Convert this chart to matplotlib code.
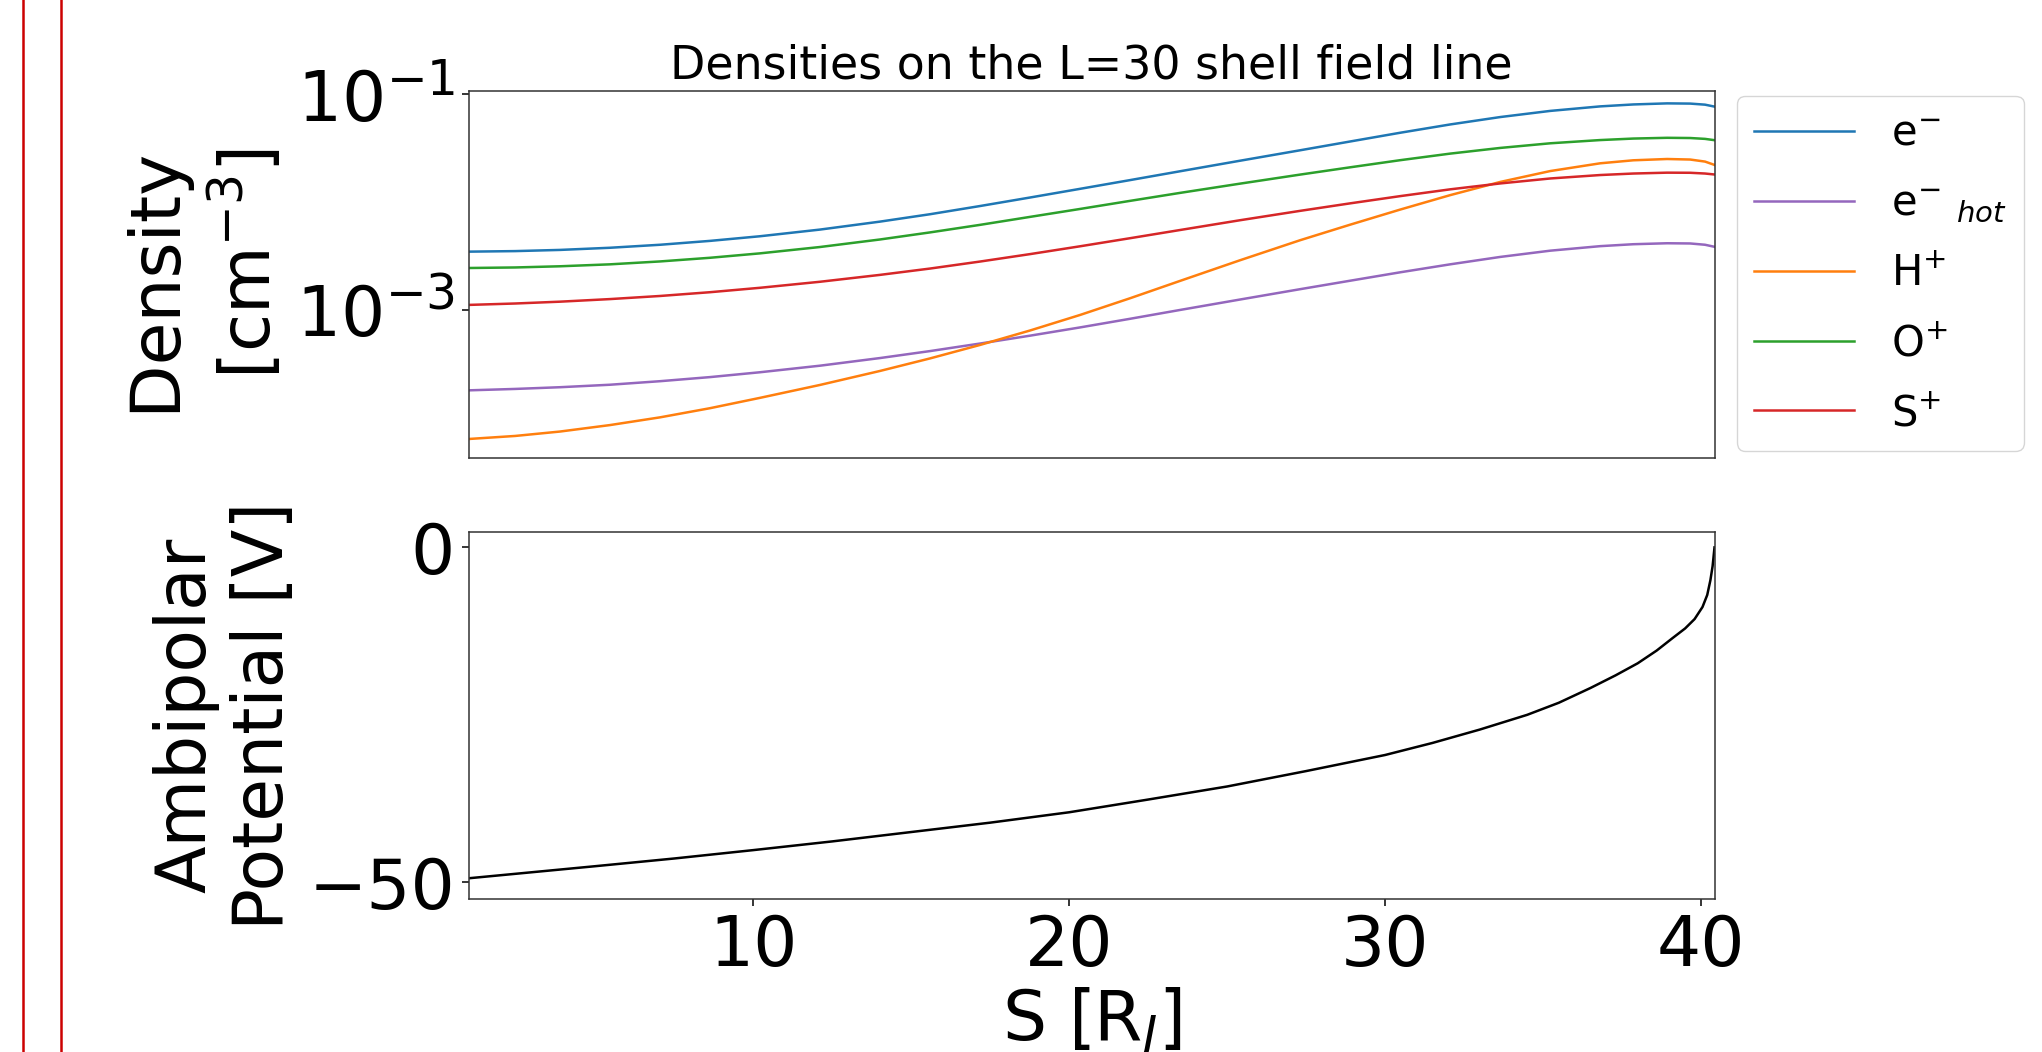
import numpy as np
import matplotlib
matplotlib.use("Agg")
import matplotlib.pyplot as plt
from matplotlib.lines import Line2D
from matplotlib.ticker import NullLocator

# distance along the field line [R_J]
s = [1.00, 2.46, 3.88, 5.46, 7.05, 8.63, 10.21, 12.11, 14.01, 15.60, 17.18,
     18.76, 20.35, 21.93, 23.51, 25.41, 27.31, 28.90, 30.48, 32.06, 33.65,
     35.23, 36.81, 37.86, 38.93, 39.66, 40.13, 40.43]

# log10 of the densities [cm^-3]
log_e = [-2.462, -2.457, -2.446, -2.426, -2.398, -2.362, -2.319, -2.257,
         -2.183, -2.114, -2.038, -1.959, -1.878, -1.797, -1.715, -1.617,
         -1.520, -1.438, -1.357, -1.280, -1.211, -1.154, -1.112, -1.094,
         -1.084, -1.086, -1.096, -1.114]
log_ehot = [-3.751, -3.738, -3.722, -3.699, -3.666, -3.628, -3.583, -3.522,
            -3.451, -3.386, -3.316, -3.243, -3.166, -3.086, -3.004, -2.907,
            -2.811, -2.732, -2.654, -2.580, -2.511, -2.453, -2.411, -2.393,
            -2.384, -2.386, -2.398, -2.417]
log_h = [-4.203, -4.175, -4.134, -4.074, -4.002, -3.917, -3.821, -3.701,
         -3.571, -3.454, -3.329, -3.195, -3.050, -2.895, -2.734, -2.542,
         -2.356, -2.211, -2.071, -1.937, -1.814, -1.713, -1.641, -1.613,
         -1.601, -1.606, -1.625, -1.656]
log_o = [-2.614, -2.609, -2.598, -2.580, -2.553, -2.519, -2.478, -2.419,
         -2.349, -2.283, -2.213, -2.139, -2.065, -1.990, -1.916, -1.830,
         -1.746, -1.678, -1.612, -1.551, -1.498, -1.455, -1.425, -1.411,
         -1.404, -1.406, -1.414, -1.426]
log_s = [-2.957, -2.944, -2.927, -2.903, -2.874, -2.839, -2.798, -2.742,
         -2.678, -2.619, -2.554, -2.485, -2.412, -2.337, -2.261, -2.170,
         -2.083, -2.013, -1.946, -1.883, -1.828, -1.782, -1.750, -1.736,
         -1.728, -1.729, -1.736, -1.745]

# ambipolar potential [V]
s_phi = [1.0, 3.0, 5.0, 7.5, 10.0, 12.5, 15.0, 17.5, 20.0, 22.5, 25.0, 27.5,
         30.0, 31.5, 33.0, 34.5, 35.5, 36.5, 37.3, 38.0, 38.6, 39.1, 39.5,
         39.8, 40.05, 40.2, 40.3, 40.37, 40.43]
phi = [-49.4, -48.5, -47.6, -46.45, -45.2, -43.9, -42.5, -41.1, -39.55,
       -37.65, -35.7, -33.4, -31.0, -29.2, -27.2, -25.0, -23.2, -21.0, -19.1,
       -17.3, -15.4, -13.55, -12.1, -10.7, -8.9, -7.1, -4.9, -2.8, 0.0]

species = [
    (log_e, r"e$^{-}$", "#1f77b4"),
    (log_ehot, r"e$^{-}$ $_{hot}$", "#9467bd"),
    (log_h, r"H$^{+}$", "#ff7f0e"),
    (log_o, r"O$^{+}$", "#2ca02c"),
    (log_s, r"S$^{+}$", "#d62728"),
]

W, H = 2042, 1052
fig = plt.figure(figsize=(W / 100, H / 100), dpi=100)

ax1 = fig.add_axes([469 / W, 1 - 458 / H, 1245.5 / W, 367 / H])
ax2 = fig.add_axes([469 / W, 1 - 899 / H, 1245.5 / W, 367 / H], sharex=ax1)

for logs, lab, col in species:
    ax1.plot(s, 10.0 ** np.array(logs), color=col, lw=1.8, label=lab)
ax1.set_yscale("log")
ax1.set_ylim(4.17e-5, 0.1074)
ax1.set_yticks([1e-3, 1e-1])
ax1.yaxis.set_minor_locator(NullLocator())
ax1.tick_params(axis="x", bottom=False, labelbottom=False)
ax1.set_title("Densities on the L=30 shell field line", fontsize=33, pad=9)
ax1.set_ylabel("Density \n [cm$^{-3}$]", fontsize=50, labelpad=8)

ax2.plot(s_phi, phi, color="black", lw=1.8)
ax2.set_xlim(1.0, 40.43)
ax2.set_ylim(-52.5, 2.3)
ax2.set_yticks([-50, 0])
ax2.set_xticks([10, 20, 30, 40])
ax2.set_xlabel("S [R$_J$]", fontsize=50, labelpad=4)
ax2.set_ylabel("Ambipolar\nPotential [V]", fontsize=50, labelpad=8)

for ax in (ax1, ax2):
    ax.tick_params(labelsize=50, length=5, width=1.1, pad=5)
    for sp in ax.spines.values():
        sp.set_linewidth(1.1)
        sp.set_color("#333333")

fig.legend(loc="upper left", bbox_to_anchor=(1737 / W, 1 - 95.7 / H),
           borderaxespad=0, fontsize=30, handlelength=2.4,
           handletextpad=0.9, labelspacing=0.67)

# page frame lines on the left
for xp in (23, 61):
    fig.add_artist(Line2D([xp / W, xp / W], [0, 1], transform=fig.transFigure,
                          color="#cc0000", lw=1.8))

fig.savefig("out.png", dpi=100)
